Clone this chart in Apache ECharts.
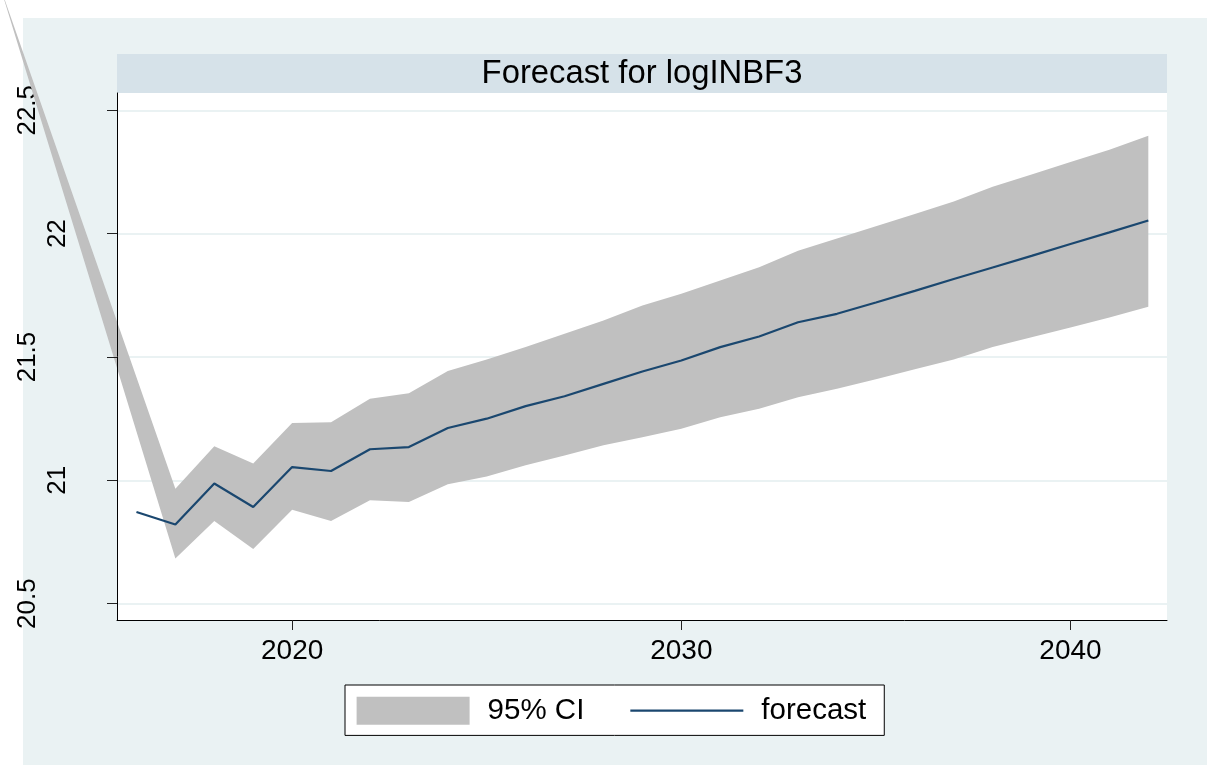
<!DOCTYPE html>
<html>
<head>
<meta charset="utf-8">
<title>Forecast for logINBF3</title>
<script src="https://cdn.jsdelivr.net/npm/echarts@6/dist/echarts.min.js"></script>
<style>
  html, body { margin: 0; padding: 0; background: #ffffff; }
  #chart { width: 1207px; height: 765px; }
</style>
</head>
<body>
<div id="chart"></div>
<script>
// Point forecast of logINBF3 by year
const years = [
  2016, 2017, 2018, 2019, 2020, 2021, 2022, 2023, 2024, 2025,
  2026, 2027, 2028, 2029, 2030, 2031, 2032, 2033, 2034, 2035,
  2036, 2037, 2038, 2039, 2040, 2041, 2042
];
const forecast = [
  20.872, 20.821, 20.987, 20.892, 21.054, 21.038, 21.126, 21.135, 21.212, 21.250,
  21.301, 21.341, 21.391, 21.441, 21.486, 21.540, 21.583, 21.641, 21.675, 21.721,
  21.768, 21.816, 21.863, 21.910, 21.958, 22.005, 22.053
];

// 95% confidence band (first vertex is where the two bounds meet)
const ciYears = [
  2012.5, 2017, 2018, 2019, 2020, 2021, 2022, 2023, 2024, 2025,
  2026, 2027, 2028, 2029, 2030, 2031, 2032, 2033, 2034, 2035,
  2036, 2037, 2038, 2039, 2040, 2041, 2042
];
const ciLower = [
  23.0, 20.683, 20.835, 20.722, 20.881, 20.835, 20.919, 20.912, 20.984, 21.016,
  21.061, 21.101, 21.142, 21.175, 21.209, 21.256, 21.290, 21.337, 21.371, 21.410,
  21.450, 21.490, 21.540, 21.580, 21.620, 21.660, 21.704
];
const ciUpper = [
  23.0, 20.966, 21.138, 21.068, 21.232, 21.236, 21.331, 21.353, 21.443, 21.490,
  21.540, 21.594, 21.648, 21.709, 21.756, 21.810, 21.864, 21.931, 21.980, 22.030,
  22.080, 22.130, 22.190, 22.240, 22.290, 22.340, 22.397
];

// Axis ticks and labels
const xTicks = [2020, 2030, 2040];
const yTicks = [20.5, 21, 21.5, 22, 22.5];
const yWholeLabels = [21, 22];
const yHalfLabels = [20.5, 21.5, 22.5];

const titleText = 'Forecast for logINBF3';
const ciName = '95% CI';
const lineName = 'forecast';

const FONT = "'Liberation Sans', Arial, Helvetica, sans-serif";
const PANEL = '#EAF2F3';
const BAND_TITLE = '#D6E2E9';
const CI_GRAY = '#C0C0C0';
const NAVY = '#1A476F';
const LINE_W = 2.2;

const plainNumber = function (v) { return String(v); };

const chart = echarts.init(document.getElementById('chart'), null, { renderer: 'canvas' });

const yRange = { min: 20.434, max: 22.57 };

chart.setOption({
  animation: false,
  backgroundColor: '#ffffff',
  graphic: [
    {
      type: 'rect', z: -20, silent: true,
      shape: { x: 23, y: 18, width: 1184, height: 747 },
      style: { fill: PANEL }
    },
    {
      type: 'rect', z: -10, silent: true,
      shape: { x: 117, y: 54, width: 1050, height: 39 },
      style: { fill: BAND_TITLE }
    },
    {
      type: 'text', z: 10, silent: true,
      x: 642, y: 73.5,
      style: {
        text: titleText, fill: '#000000',
        font: '32.8px ' + FONT,
        align: 'center', verticalAlign: 'middle'
      }
    }
  ],
  grid: {
    left: 117, right: 40, top: 93, bottom: 145,
    show: true, backgroundColor: '#ffffff', borderWidth: 0,
    outerBoundsMode: 'none', containLabel: false
  },
  legend: {
    left: 345, top: 685,
    orient: 'horizontal',
    padding: [10.7, 18, 9.7, 11.6],
    itemGap: 46,
    itemWidth: 113, itemHeight: 28,
    backgroundColor: '#ffffff',
    borderColor: '#000000', borderWidth: 1, borderRadius: 0,
    selectedMode: false,
    symbolKeepAspect: true,
    textStyle: { fontSize: 29.5, color: '#000000', fontFamily: FONT, padding: [0, 0, 0, 13] },
    data: [
      { name: ciName, icon: 'rect' },
      // thin bar icon standing for the forecast line
      { name: lineName, icon: 'path://M0,0 H113 V' + LINE_W + ' H0 Z', itemStyle: { color: NAVY } }
    ]
  },
  xAxis: {
    type: 'value', min: 2015.5, max: 2042.48, z: 10,
    axisLine: { show: true, onZero: false, lineStyle: { color: '#000000', width: 1 } },
    axisTick: { show: true, customValues: xTicks, length: 10, lineStyle: { color: '#222222', width: 1 } },
    axisLabel: { customValues: xTicks, formatter: plainNumber, margin: 17, fontSize: 28, color: '#000000', fontFamily: FONT },
    splitLine: { show: false }
  },
  yAxis: [
    {
      type: 'value', position: 'left', min: yRange.min, max: yRange.max, z: 10,
      axisLine: { show: true, onZero: false, lineStyle: { color: '#000000', width: 1 } },
      axisTick: { show: true, customValues: yTicks, length: 10, lineStyle: { color: '#222222', width: 1 } },
      axisLabel: { customValues: yWholeLabels, formatter: plainNumber, rotate: 90, margin: 46, fontSize: 26, color: '#000000', fontFamily: FONT },
      splitLine: { show: false }
    },
    {
      type: 'value', position: 'left', offset: 0, min: yRange.min, max: yRange.max, z: 0,
      axisLine: { show: false },
      axisTick: { show: false, customValues: yTicks },
      axisLabel: { customValues: yHalfLabels, formatter: plainNumber, rotate: 90, margin: 76, fontSize: 26, color: '#000000', fontFamily: FONT },
      splitLine: { show: true, lineStyle: { color: PANEL, width: 2 } }
    }
  ],
  series: [
    {
      type: 'custom',
      name: ciName,
      coordinateSystem: 'cartesian2d',
      xAxisIndex: 0, yAxisIndex: 0,
      clip: false, silent: true, z: 2,
      itemStyle: { color: CI_GRAY },
      data: ciYears.map((yr, i) => [yr, ciLower[i], ciUpper[i]]),
      encode: { x: 0, y: [1, 2] },
      renderItem: function (params, api) {
        if (params.dataIndex !== 0) return null;
        const pts = [];
        for (let i = 0; i < ciYears.length; i++) pts.push(api.coord([ciYears[i], ciUpper[i]]));
        for (let i = ciYears.length - 1; i >= 0; i--) pts.push(api.coord([ciYears[i], ciLower[i]]));
        return { type: 'polygon', shape: { points: pts }, style: { fill: CI_GRAY } };
      }
    },
    {
      type: 'line',
      name: lineName,
      xAxisIndex: 0, yAxisIndex: 0,
      z: 3,
      symbol: 'none', showSymbol: false,
      lineStyle: { color: NAVY, width: LINE_W },
      itemStyle: { color: NAVY },
      data: years.map((yr, i) => [yr, forecast[i]])
    }
  ]
});
</script>
</body>
</html>
